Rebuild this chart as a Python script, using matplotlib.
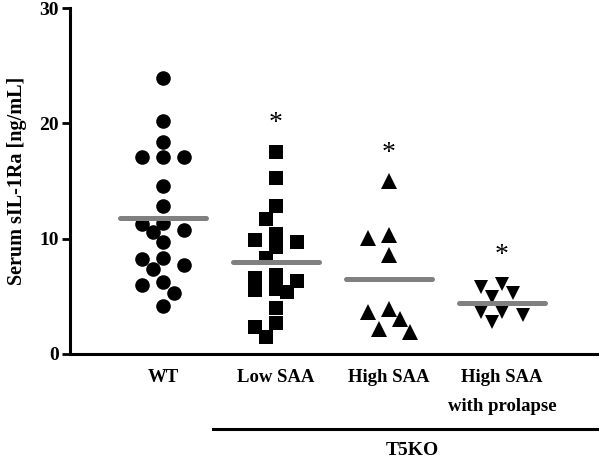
import matplotlib
matplotlib.use("Agg")
import matplotlib.pyplot as plt
import numpy as np
from matplotlib.transforms import blended_transform_factory
from matplotlib.lines import Line2D

# values (ng/mL)
groups = ["WT", "Low SAA", "High SAA", "High SAA\nwith prolapse"]
wt = [23.9, 20.2, 18.4, 17.1, 17.1, 17.1, 14.6, 12.8, 11.4, 10.75, 10.55,
      11.3, 9.7, 8.2, 7.7, 8.3, 7.4, 6.2, 6.0, 5.3, 4.2]
low_saa = [17.55, 15.3, 12.85, 11.7, 10.4, 9.9, 9.3, 9.7, 8.3, 6.85, 6.3,
           6.55, 5.55, 5.4, 5.6, 3.95, 2.65, 2.35, 1.45]
high_saa = [15.0, 10.3, 10.1, 8.6, 3.9, 3.6, 3.0, 2.2, 1.9]
prolapse = [6.1, 5.8, 5.25, 4.9, 3.65, 3.65, 3.4, 2.8]
series = [wt, low_saa, high_saa, prolapse]
markers = ["o", "s", "^", "v"]
msizes = [10.5, 10, 11, 10.5]
significant = [False, True, True, True]

FONT = "Liberation Serif"
plt.rcParams["font.family"] = FONT
plt.rcParams["font.weight"] = "bold"

fig = plt.figure(figsize=(6, 4.62), dpi=100)
ax = fig.add_axes([70 / 600, 108 / 462, 527 / 600, 346 / 462])
ax.set_xlim(0.177, 4.84)
ax.set_ylim(0, 30)

px_x = 527 / (4.84 - 0.177)   # pixels per x unit
px_y = 346 / 30               # pixels per y unit


def swarm(vals, step=10.5, mind=14.0, maxk=2):
    # column scatter: slots of half a marker width, at most two slots each side
    order = np.argsort(vals)[::-1]
    placed = []
    offs = np.zeros(len(vals))
    cands = [0]
    for k in range(1, maxk + 1):
        cands += [-k, k]
    for i in order:
        y = vals[i] * px_y
        best, best_d = 0.0, -1.0
        for c in cands:
            x = c * step
            d = min([np.hypot(x - px, y - py) for px, py in placed] or [99.0])
            if d >= mind:
                best = x
                break
            if d > best_d:
                best, best_d = x, d
        placed.append((best, y))
        offs[i] = best
    return offs / px_x


for i, (vals, m, ms) in enumerate(zip(series, markers, msizes)):
    vals = np.asarray(vals)
    xs = (i + 1) + swarm(vals)
    ax.plot(xs, vals, linestyle="none", marker=m, markersize=ms,
            color="black", markeredgewidth=0, zorder=3)
    mean = vals.mean()
    ax.plot([i + 1 - 0.38, i + 1 + 0.38], [mean, mean], color="#808080",
            linewidth=3.6, solid_capstyle="round", zorder=4)
    if significant[i]:
        ax.text(i + 1, vals.max() + 2.4, "*", ha="center", va="center",
                fontsize=20, fontweight="normal")

for s in ["top", "right"]:
    ax.spines[s].set_visible(False)
for s in ["left", "bottom"]:
    ax.spines[s].set_linewidth(2.2)

ax.set_yticks([0, 10, 20, 30])
ax.tick_params(axis="y", length=6, width=2, labelsize=14, pad=2)
ax.set_xticks(range(1, 5))
ax.set_xticklabels(groups, fontsize=13.5, linespacing=1.9, va="top")
ax.tick_params(axis="x", length=0, pad=11)
ax.set_ylabel("Serum sIL-1Ra [ng/mL]", fontsize=14.5, fontweight="bold")
ax.yaxis.set_label_coords(-0.082, 0.5)

# T5KO bracket under the knockout groups
trans = blended_transform_factory(ax.transData, ax.transAxes)
ax.add_line(Line2D([1.44, 4.84], [-0.217, -0.217], color="black",
                   linewidth=2.2, transform=trans, clip_on=False))
ax.text(3.21, -0.278, "T5KO", transform=trans, ha="center", va="center",
        fontsize=14, fontweight="bold")

fig.savefig("out.png", dpi=100)
